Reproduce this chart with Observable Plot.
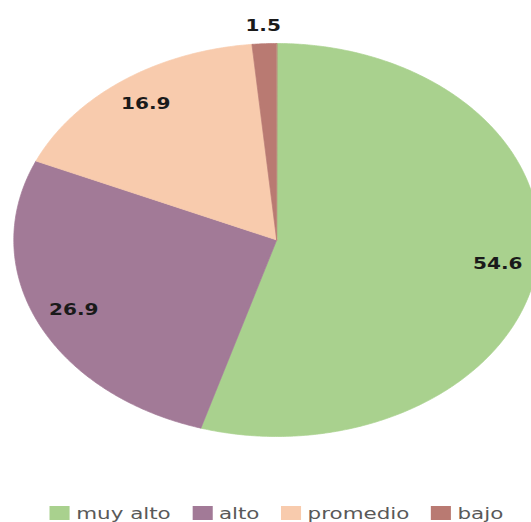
<!DOCTYPE html>
<html>
<head>
<meta charset="utf-8">
<script src="https://cdn.jsdelivr.net/npm/d3@7"></script>
<script src="https://cdn.jsdelivr.net/npm/@observablehq/plot@0.6"></script>
<style>
  html, body { margin: 0; padding: 0; background: #fff; overflow: hidden; }
  #wrap { width: 396px; transform: scaleX(1.338); transform-origin: 0 0; }
  #chart svg { overflow: visible; display: block; }
  #legend div { display: flex; align-items: center; min-height: 0; height: 20px; margin: 0; padding-left: 37px;
    font: 16px "DejaVu Sans", sans-serif; color: #595959; flex-wrap: nowrap; }
  #legend span { display: inline-flex; align-items: center; margin-right: 16px; white-space: nowrap; }
  #legend svg { margin-right: 5px; }
</style>
</head>
<body>
<div id="wrap">
  <div id="chart"></div>
  <div id="legend"></div>
</div>
<script>
const categories = ["muy alto", "alto", "promedio", "bajo"];
const values = [54.6, 26.9, 16.9, 1.5];
const colors = ["#a9d18e", "#a27a97", "#f8cbad", "#b97a72"];

const total = d3.sum(values);
let cum = 0;
const slices = categories.map((c, i) => {
  const a0 = cum / total * 2 * Math.PI;
  cum += values[i];
  const a1 = cum / total * 2 * Math.PI;
  return {cat: c, value: values[i], a0, a1, mid: (a0 + a1) / 2};
});

// polygon outline of each slice (center + arc), angles clockwise from 12 o'clock
const outline = [];
for (const s of slices) {
  outline.push({cat: s.cat, x: 0, y: 0});
  const n = Math.max(2, Math.ceil((s.a1 - s.a0) / (Math.PI / 360)));
  for (let k = 0; k <= n; k++) {
    const a = s.a0 + (s.a1 - s.a0) * k / n;
    outline.push({cat: s.cat, x: Math.sin(a), y: Math.cos(a)});
  }
}

const labelR = v => (v / total < 0.05 ? 1.09 : 0.85);
const labels = slices.map(s => ({
  text: String(s.value),
  x: Math.sin(s.mid) * labelR(s.value),
  y: Math.cos(s.mid) * labelR(s.value)
}));

const cx = 206.3, cy = 239.5, r = 196.5;
const plot = Plot.plot({
  width: 396,
  height: 503,
  margin: 0,
  x: {domain: [-1, 1], range: [cx - r, cx + r], axis: null},
  y: {domain: [-1, 1], range: [cy + r, cy - r], axis: null},
  color: {type: "ordinal", domain: categories, range: colors},
  marks: [
    Plot.line(outline, {x: "x", y: "y", z: "cat", fill: "cat", stroke: "cat", strokeWidth: 0.6, curve: "linear-closed"}),
    Plot.text(labels, {x: "x", y: "y", text: "text", fontSize: 15, fontWeight: "bold",
      fontFamily: "DejaVu Sans", fill: "#1a1a1a"})
  ]
});
document.getElementById("chart").appendChild(plot);

const legend = Plot.legend({
  color: {type: "ordinal", domain: categories, range: colors},
  legend: "swatches",
  swatchWidth: 15,
  swatchHeight: 14
});
document.getElementById("legend").appendChild(legend);
</script>
</body>
</html>
